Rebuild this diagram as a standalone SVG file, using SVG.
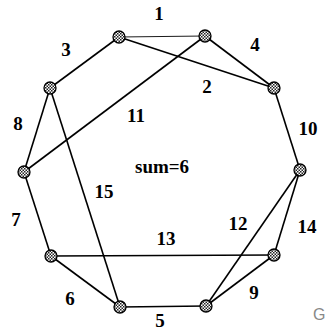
<svg xmlns="http://www.w3.org/2000/svg" width="326" height="331" viewBox="0 0 326 331">
<style>
.e{stroke:#000;stroke-width:1.6;fill:none}
.thin{stroke-width:0.9}
.n{fill:url(#hatch);stroke:#000;stroke-width:1.3}
.t{font-family:"Liberation Serif",serif;font-weight:bold;font-size:19px;fill:#000}
</style>
<defs>
<pattern id="hatch" width="3" height="3" patternUnits="userSpaceOnUse">
<rect width="3" height="3" fill="#fff"/>
<rect width="1.5" height="1.5" fill="#222"/>
<rect x="1.5" y="1.5" width="1.5" height="1.5" fill="#222"/>
</pattern>
</defs>
<rect width="326" height="331" fill="#fff"/>
<g id="connectors">
<line class="e thin" x1="119" y1="37" x2="205" y2="36"/>
<line class="e" x1="119" y1="37" x2="274" y2="88"/>
<line class="e" x1="119" y1="37" x2="50" y2="88"/>
<line class="e" x1="205" y1="36" x2="274" y2="88"/>
<line class="e" x1="205" y1="36" x2="24" y2="172"/>
<line class="e" x1="50" y1="88" x2="24" y2="172"/>
<line class="e" x1="50" y1="88" x2="120" y2="307"/>
<line class="e" x1="274" y1="88" x2="300" y2="170"/>
<line class="e" x1="24" y1="172" x2="51" y2="256"/>
<line class="e" x1="51" y1="256" x2="274" y2="255"/>
<line class="e" x1="51" y1="256" x2="120" y2="307"/>
<line class="e" x1="120" y1="307" x2="206" y2="306"/>
<line class="e" x1="300" y1="170" x2="274" y2="255"/>
<line class="e" x1="300" y1="170" x2="206" y2="306"/>
<line class="e" x1="274" y1="255" x2="206" y2="306"/>
</g>
<g id="nA"><circle class="n" cx="119" cy="37" r="6"/></g>
<g id="nB"><circle class="n" cx="205" cy="36" r="6"/></g>
<g id="nC"><circle class="n" cx="50" cy="88" r="6"/></g>
<g id="nD"><circle class="n" cx="274" cy="88" r="6"/></g>
<g id="nE"><circle class="n" cx="24" cy="172" r="6"/></g>
<g id="nF"><circle class="n" cx="300" cy="170" r="6"/></g>
<g id="nG"><circle class="n" cx="51" cy="256" r="6"/></g>
<g id="nH"><circle class="n" cx="274" cy="255" r="6"/></g>
<g id="nI"><circle class="n" cx="120" cy="307" r="6"/></g>
<g id="nJ"><circle class="n" cx="206" cy="306" r="6"/></g>
<g id="labels">
<text class="t" x="159" y="20" text-anchor="middle">1</text>
<text class="t" x="207" y="93" text-anchor="middle">2</text>
<text class="t" x="66" y="56" text-anchor="middle">3</text>
<text class="t" x="255" y="51" text-anchor="middle">4</text>
<text class="t" x="160" y="327" text-anchor="middle" font-size="14">5</text>
<text class="t" x="70" y="305" text-anchor="middle">6</text>
<text class="t" x="16" y="226" text-anchor="middle">7</text>
<text class="t" x="18" y="130" text-anchor="middle">8</text>
<text class="t" x="254" y="299" text-anchor="middle">9</text>
<text class="t" x="308" y="135" text-anchor="middle">10</text>
<text class="t" x="136" y="122" text-anchor="middle">11</text>
<text class="t" x="238" y="230" text-anchor="middle">12</text>
<text class="t" x="166" y="245" text-anchor="middle">13</text>
<text class="t" x="307" y="233" text-anchor="middle">14</text>
<text class="t" x="104" y="198" text-anchor="middle">15</text>
<text class="t" x="135" y="173" font-size="21">sum=6</text>
<text x="313" y="320" font-family="Liberation Sans,sans-serif" font-size="16" fill="#888">G</text>
</g>
</svg>
